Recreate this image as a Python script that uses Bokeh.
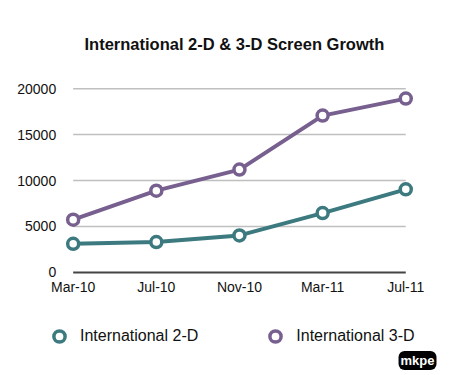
from bokeh.plotting import figure
from bokeh.models import (Range1d, FixedTicker, Legend, LegendItem, Label, ColumnDataSource)
from bokeh.embed import file_html
from bokeh.resources import INLINE

months = ["Mar-10", "Jul-10", "Nov-10", "Mar-11", "Jul-11"]
screens_2d = [3120, 3300, 4030, 6460, 9040]
screens_3d = [5740, 8900, 11190, 17070, 18920]
y_ticks = [0, 5000, 10000, 15000, 20000]
series_names = ["International 2-D", "International 3-D"]

TEAL = "#3c7a80"
PURPLE = "#77608f"
FONT = "Liberation Sans"

xs = list(range(len(months)))

# frame spans the full width and runs down to the bottom so the legend and
# logo can live inside it; axes are pinned at fixed data locations
p = figure(width=450, height=375, output_backend="svg", toolbar_location=None,
           x_range=Range1d(-0.874, 4.538),
           y_range=Range1d(-11220, 21000),
           min_border_left=0, min_border_right=0, min_border_top=79,
           min_border_bottom=0)
p.outline_line_color = None
p.background_fill_color = "white"
p.border_fill_color = "white"
p.xgrid.visible = False
p.ygrid.visible = False

grid_src = ColumnDataSource(dict(x0=[xs[0]] * (len(y_ticks) - 1), x1=[xs[-1]] * (len(y_ticks) - 1),
                                 y=y_ticks[1:]))
p.segment(x0="x0", x1="x1", y0="y", y1="y", source=grid_src, line_color="#bfbfbf", line_width=1.5)
p.segment(x0=[xs[0]], x1=[xs[-1]], y0=[y_ticks[0]], y1=[y_ticks[0]], line_color="#444444", line_width=2)

p.line(xs, screens_2d, line_color=TEAL, line_width=4)
p.line(xs, screens_3d, line_color=PURPLE, line_width=4)
r2 = p.scatter(xs, screens_2d, size=11, fill_color="white", line_color=TEAL, line_width=3.5)
r3 = p.scatter(xs, screens_3d, size=11, fill_color="white", line_color=PURPLE, line_width=3.5)

p.xaxis.fixed_location = 0
p.yaxis.fixed_location = -0.12
p.xaxis.ticker = FixedTicker(ticks=xs)
p.xaxis.major_label_overrides = {i: m for i, m in enumerate(months)}
p.yaxis.ticker = FixedTicker(ticks=y_ticks)
for ax in (p.xaxis, p.yaxis):
    ax.axis_line_color = None
    ax.major_tick_line_color = None
    ax.minor_tick_line_color = None
    ax.major_label_text_font = FONT
    ax.major_label_text_font_size = "14px"
    ax.major_label_text_color = "#111111"
p.xaxis.major_label_standoff = 1
p.yaxis.major_label_standoff = 1

p.title.text = "International 2-D & 3-D Screen Growth"
p.title.text_font = FONT
p.title.text_font_size = "16.5px"
p.title.text_font_style = "bold"
p.title.align = "left"
p.title.offset = 84
p.title.standoff = 53
p.title.text_color = "#111111"

legend = Legend(items=[LegendItem(label=series_names[0], renderers=[r2]),
                       LegendItem(label=series_names[1], renderers=[r3])],
                orientation="horizontal", location=(45, 25),
                label_text_font=FONT, label_text_font_size="16px", label_text_color="#111111",
                glyph_width=28, glyph_height=28, label_standoff=7, spacing=63,
                border_line_color=None, background_fill_alpha=0, margin=0, padding=4)
p.add_layout(legend)

logo = Label(x=436, y=15, x_units="screen", y_units="screen", text="mkpe",
             text_font=FONT, text_font_size="13px", text_font_style="bold",
             text_color="white", text_align="right", text_baseline="middle",
             background_fill_color="black", padding=2, border_radius=6)
p.add_layout(logo)

open("out.html", "w").write(file_html(p, INLINE))
